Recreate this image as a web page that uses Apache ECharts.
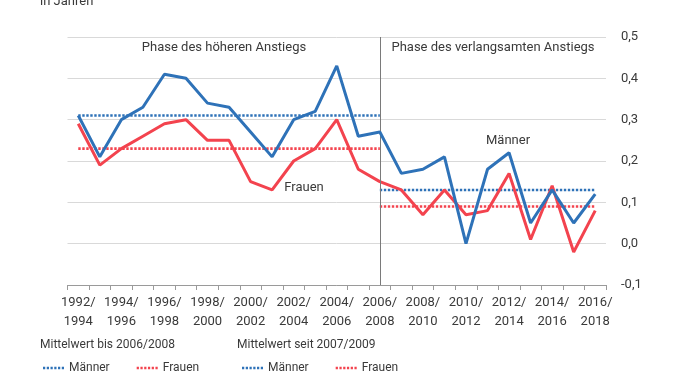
<!DOCTYPE html>
<html>
<head>
<meta charset="utf-8">
<script src="https://cdn.jsdelivr.net/npm/echarts@6/dist/echarts.min.js"></script>
<style>
html,body{margin:0;padding:0;background:#fff;}
#chart{width:678px;height:381px;}
</style>
</head>
<body>
<div id="chart"></div>
<script>
const categories = ['1992/1994','1993/1995','1994/1996','1995/1997','1996/1998','1997/1999','1998/2000','1999/2001','2000/2002','2001/2003','2002/2004','2003/2005','2004/2006','2005/2007','2006/2008','2007/2009','2008/2010','2009/2011','2010/2012','2011/2013','2012/2014','2013/2015','2014/2016','2015/2017','2016/2018'];
const maenner = [0.31,0.21,0.30,0.33,0.41,0.40,0.34,0.33,0.27,0.21,0.30,0.32,0.43,0.26,0.27,0.17,0.18,0.21,0.00,0.18,0.22,0.05,0.13,0.05,0.12];
const frauen  = [0.29,0.19,0.23,0.26,0.29,0.30,0.25,0.25,0.15,0.13,0.20,0.23,0.30,0.18,0.15,0.13,0.07,0.13,0.07,0.08,0.17,0.01,0.14,-0.02,0.08];
const meanBis  = {maenner:0.31, frauen:0.23};   // Mittelwert bis 2006/2008
const meanSeit = {maenner:0.13, frauen:0.09};   // Mittelwert seit 2007/2009
const splitIndex = 14; // 2006/2008
const yTicks = [-0.1,0,0.1,0.2,0.3,0.4,0.5];

const BLUE = '#2e72b8', RED = '#f3434e', TXT = '#3a3a3a';
const FONT = 'Roboto';
const DOTS = 'path://M0,0h2.2v2.6h-2.2zM3.7,0h2.2v2.6h-2.2zM7.4,0h2.2v2.6h-2.2zM11.1,0h2.2v2.6h-2.2zM14.8,0h2.2v2.6h-2.2zM18.5,0h2.2v2.6h-2.2z';

const bisArr  = v => categories.map((c,i) => i <= splitIndex ? v : null);
const seitArr = v => categories.map((c,i) => i >= splitIndex ? v : null);

const dotted = (color) => ({color: color, width: 2.6, type: [2.4, 1.6], cap: 'butt'});

const legendBase = {top: 357, itemWidth: 21, itemHeight: 3, itemGap: 27, icon: DOTS,
  textStyle: {fontSize: 12, color: TXT, fontFamily: FONT},
  formatter: n => n.replace(/ \(.*\)/, '')};

const chart = echarts.init(document.getElementById('chart'), null, {renderer:'canvas'});
chart.setOption({
  animation: false,
  textStyle: {fontFamily: FONT, color: TXT},
  grid: {left: 67.5, right: 72, top: 37, bottom: 96},
  xAxis: {
    type: 'category', data: categories, boundaryGap: true,
    axisLine: {onZero: false, lineStyle: {color: '#9a9a9a', width: 1}},
    axisTick: {show: true, interval: 0, length: 5, lineStyle: {color: '#9a9a9a'}},
    axisLabel: {interval: 1, fontSize: 13, lineHeight: 19, margin: 8, color: TXT, fontFamily: FONT,
      formatter: v => v.replace('/', '/\n')},
    splitLine: {show: false}
  },
  yAxis: {
    type: 'value', position: 'right', min: yTicks[0], max: yTicks[yTicks.length-1], interval: 0.1,
    axisLine: {show: false}, axisTick: {show: false},
    axisLabel: {margin: 15, fontSize: 13, color: TXT, fontFamily: FONT, align: 'left',
      formatter: v => v.toFixed(1).replace('.', ',')},
    splitLine: {show: true, lineStyle: {color: '#d9d9d9', width: 1}}
  },
  legend: [
    Object.assign({left: 38, data: ['Männer (bis)', 'Frauen (bis)']}, legendBase),
    Object.assign({left: 237, data: ['Männer (seit)', 'Frauen (seit)']}, legendBase)
  ],
  graphic: [
    {type:'text', left: 40, top: -5, style:{text:'in Jahren', font:'13px '+FONT, fill:TXT}},
    {type:'text', x: 224, y: 48, style:{text:'Phase des höheren Anstiegs', font:'13px '+FONT, fill:TXT, align:'center', verticalAlign:'middle'}},
    {type:'text', x: 493, y: 48, style:{text:'Phase des verlangsamten Anstiegs', font:'13px '+FONT, fill:TXT, align:'center', verticalAlign:'middle'}},
    {type:'text', x: 304, y: 188, style:{text:'Frauen', font:'13px '+FONT, fill:TXT, align:'center', verticalAlign:'middle'}},
    {type:'text', x: 508, y: 141, style:{text:'Männer', font:'13px '+FONT, fill:TXT, align:'center', verticalAlign:'middle'}},
    {type:'text', x: 40, y: 345, style:{text:'Mittelwert bis 2006/2008', font:'12px '+FONT, fill:TXT, verticalAlign:'middle'}},
    {type:'text', x: 237, y: 345, style:{text:'Mittelwert seit 2007/2009', font:'12px '+FONT, fill:TXT, verticalAlign:'middle'}}
  ],
  series: [
    {name:'Männer (bis)', type:'line', data: bisArr(meanBis.maenner), symbol:'none', lineStyle: dotted(BLUE), itemStyle:{color:BLUE}, z:3},
    {name:'Frauen (bis)', type:'line', data: bisArr(meanBis.frauen), symbol:'none', lineStyle: dotted(RED), itemStyle:{color:RED}, z:3},
    {name:'Männer (seit)', type:'line', data: seitArr(meanSeit.maenner), symbol:'none', lineStyle: dotted(BLUE), itemStyle:{color:BLUE}, z:3},
    {name:'Frauen (seit)', type:'line', data: seitArr(meanSeit.frauen), symbol:'none', lineStyle: dotted(RED), itemStyle:{color:RED}, z:3},
    {name:'Frauen', type:'line', data: frauen, symbol:'none', lineStyle:{color:RED, width:3}, itemStyle:{color:RED}, z:4,
     markLine: {silent:true, symbol:['none','none'], label:{show:false},
       lineStyle:{color:'#7a7a7a', width:1, type:'solid'},
       data:[{xAxis: categories[splitIndex]}]}},
    {name:'Männer', type:'line', data: maenner, symbol:'none', lineStyle:{color:BLUE, width:3}, itemStyle:{color:BLUE}, z:5}
  ]
});
</script>
</body>
</html>
